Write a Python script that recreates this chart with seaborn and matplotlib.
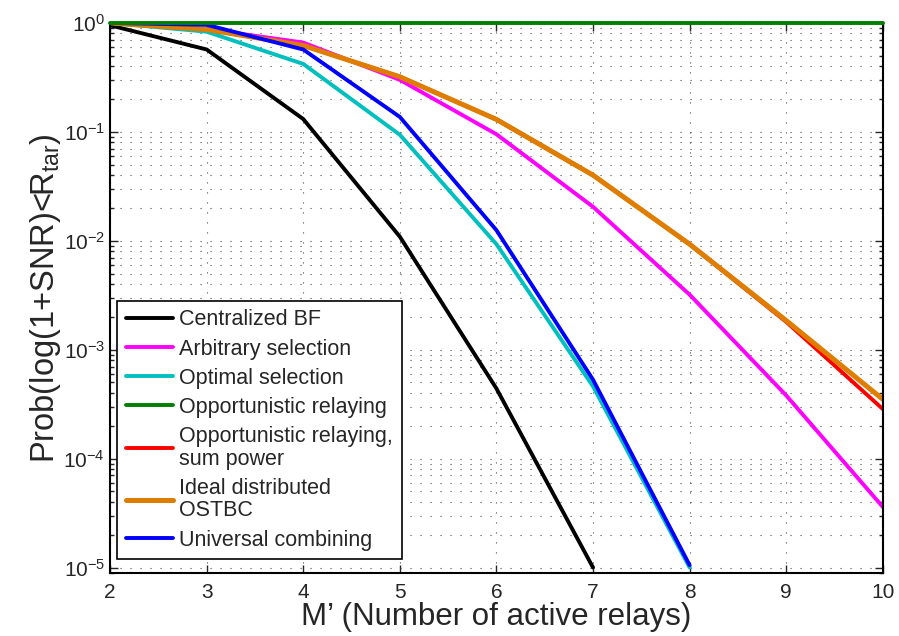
import numpy as np
import pandas as pd
import seaborn as sns
import matplotlib
matplotlib.use("Agg")
import matplotlib.pyplot as plt
from matplotlib.ticker import LogLocator, FixedLocator

M = [2, 3, 4, 5, 6, 7, 8, 9, 10]

central_bf = [0.95, 0.57, 0.131, 0.0109, 4.4e-4, 1.0e-5]
arbitrary = [1.0, 0.88, 0.66, 0.30, 0.095, 0.0205, 3.2e-3, 3.8e-4, 3.6e-5]
optimal = [1.0, 0.83, 0.42, 0.094, 0.0093, 4.6e-4, 1.0e-5]
opportunistic = [1.0, 1.0, 1.0, 1.0, 1.0, 1.0, 1.0, 1.0, 1.0]
opp_sum_power = [1.0, 0.87, 0.62, 0.32, 0.13, 0.040, 0.0093, 1.8e-3, 2.85e-4]
ideal_ostbc = [1.0, 0.87, 0.62, 0.32, 0.13, 0.040, 0.0093, 1.85e-3, 3.5e-4]
universal = [1.0, 0.96, 0.57, 0.137, 0.0125, 5.3e-4, 1.05e-5]

series = [
    ("Centralized BF", central_bf, "black", 2.8),
    ("Arbitrary selection", arbitrary, "#FF00FF", 2.8),
    ("Optimal selection", optimal, "#00BFBF", 2.8),
    ("Opportunistic relaying", opportunistic, "#007F00", 2.8),
    ("Opportunistic relaying,\nsum power", opp_sum_power, "#FF0000", 2.8),
    ("Ideal distributed\nOSTBC", ideal_ostbc, "#DE7D00", 3.6),
    ("Universal combining", universal, "#0000FF", 2.8),
]

sns.set_style("ticks")
plt.rcParams['font.family'] = ['Liberation Sans', 'DejaVu Sans']
plt.rcParams['mathtext.fontset'] = 'custom'
plt.rcParams['mathtext.rm'] = 'Liberation Sans'
plt.rcParams['mathtext.it'] = 'Liberation Sans'
plt.rcParams['mathtext.default'] = 'regular'

fig = plt.figure(figsize=(8.99, 6.36), dpi=100)
ax = fig.add_axes([0.1224, 0.099, 0.8596, 0.865])

for name, vals, col, lw in series:
    df = pd.DataFrame({"M": M[:len(vals)], "p": vals})
    sns.lineplot(data=df, x="M", y="p", color=col, lw=lw, label=name, ax=ax)
# the flat line sits right on the top edge
ax.lines[3].set_clip_on(False)
ax.lines[3].set_zorder(5)

ax.set_yscale("log")
ax.set_xlim(2, 10)
ax.set_ylim(8.9e-6, 1)
ax.xaxis.set_major_locator(FixedLocator(M))
ax.yaxis.set_major_locator(LogLocator(base=10, numticks=10))
ax.yaxis.set_minor_locator(LogLocator(base=10, subs=np.arange(2, 10), numticks=20))

ax.grid(True, which="major", axis="both", ls=(0, (1, 8)), color="0.3", lw=0.8)
ax.grid(True, which="minor", axis="y", ls=(0, (1, 8)), color="0.3", lw=0.8)

ax.tick_params(which="both", direction="in", top=True, right=True, labelsize=15)
ax.tick_params(which="major", length=6, width=1)
ax.tick_params(which="minor", length=3, width=1)
ax.tick_params(axis="x", pad=7)
for s in ax.spines.values():
    s.set_linewidth(1.5)
    s.set_color("black")

ax.set_xlabel("M\u2019 (Number of active relays)", fontsize=22.5, labelpad=0)
ax.set_ylabel(r"Prob(log(1+SNR)<R$_{tar}$)", fontsize=23.5, labelpad=0)

leg = ax.legend(loc="lower left", bbox_to_anchor=(0.009, 0.025), borderaxespad=0,
                fontsize=15.5, frameon=True, fancybox=False,
                edgecolor="black", framealpha=1, handlelength=2.2,
                borderpad=0.4, labelspacing=0.38, handletextpad=0.3)
leg.get_frame().set_linewidth(1.2)
for t in leg.get_texts():
    t.set_linespacing(1.1)

fig.savefig("out.png", dpi=100)
